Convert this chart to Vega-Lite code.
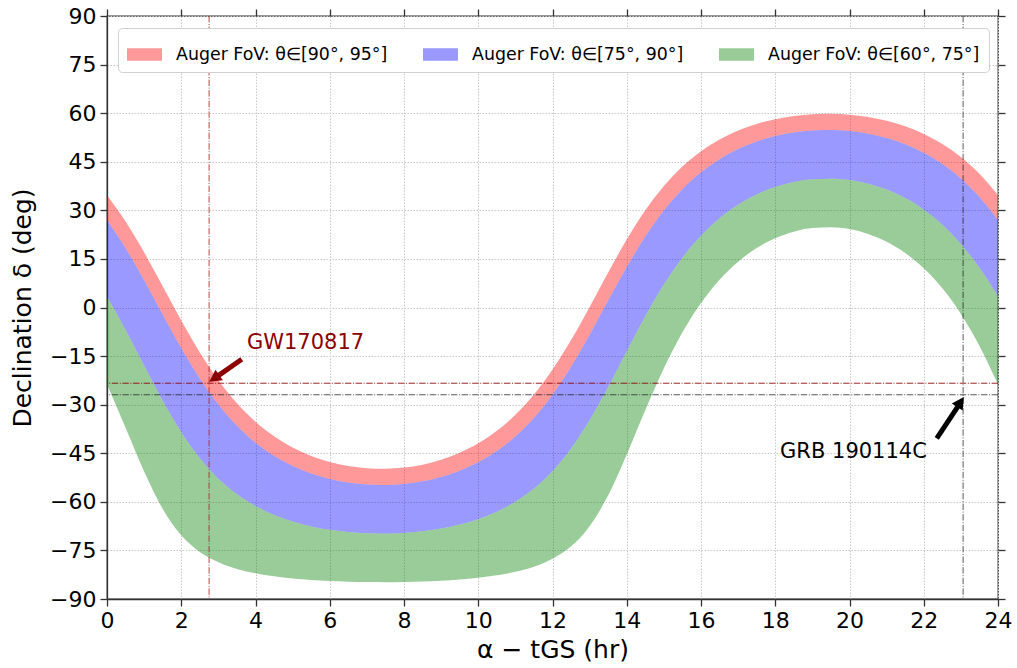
{
  "$schema": "https://vega.github.io/schema/vega-lite/v6.json",
  "width": 891,
  "height": 583,
  "autosize": {"type": "none"},
  "padding": {"left": 107, "top": 16, "right": 19, "bottom": 69},
  "background": "white",
  "config": {
    "font": "DejaVu Sans",
    "view": {"stroke": "#333", "strokeWidth": 1.3},
    "axis": {
      "labelFont": "DejaVu Sans",
      "titleFont": "DejaVu Sans",
      "labelFontSize": 22,
      "titleFontSize": 25,
      "titleFontWeight": "normal",
      "labelColor": "black",
      "titleColor": "black",
      "tickColor": "#333",
      "tickSize": 7,
      "tickWidth": 1.3,
      "domainColor": "#333",
      "domainWidth": 1.3,
      "gridColor": "#c8c8c8",
      "gridDash": [1.5, 1.5],
      "gridWidth": 1,
      "labelPadding": 4,
      "labelFlush": false
    }
  },
  "datasets": {
    "band": [
      {"x": 0, "t95": 34.68, "t90": 26.93, "t75": 3.33, "t60": -23.73},
      {"x": 0.5, "t95": 26.56, "t90": 18.31, "t75": -6.92, "t60": -37.12},
      {"x": 1, "t95": 17.03, "t90": 8.43, "t75": -17.94, "t60": -50.67},
      {"x": 1.5, "t95": 6.56, "t90": -2.13, "t75": -28.79, "t60": -62.22},
      {"x": 2, "t95": -4.01, "t90": -12.5, "t75": -38.5, "t60": -70.35},
      {"x": 2.5, "t95": -13.87, "t90": -21.93, "t75": -46.54, "t60": -75.52},
      {"x": 3, "t95": -22.44, "t90": -29.97, "t75": -52.86, "t60": -78.69},
      {"x": 3.5, "t95": -29.55, "t90": -36.53, "t75": -57.68, "t60": -80.72},
      {"x": 4, "t95": -35.25, "t90": -41.73, "t75": -61.31, "t60": -82.07},
      {"x": 4.5, "t95": -39.75, "t90": -45.8, "t75": -64.04, "t60": -83.01},
      {"x": 5, "t95": -43.22, "t90": -48.92, "t75": -66.08, "t60": -83.68},
      {"x": 5.5, "t95": -45.82, "t90": -51.25, "t75": -67.58, "t60": -84.14},
      {"x": 6, "t95": -47.7, "t90": -52.93, "t75": -68.64, "t60": -84.46},
      {"x": 6.5, "t95": -48.95, "t90": -54.04, "t75": -69.33, "t60": -84.66},
      {"x": 7, "t95": -49.63, "t90": -54.65, "t75": -69.71, "t60": -84.77},
      {"x": 7.5, "t95": -49.79, "t90": -54.79, "t75": -69.79, "t60": -84.8},
      {"x": 8, "t95": -49.43, "t90": -54.47, "t75": -69.6, "t60": -84.74},
      {"x": 8.5, "t95": -48.52, "t90": -53.66, "t75": -69.09, "t60": -84.59},
      {"x": 9, "t95": -47.03, "t90": -52.33, "t75": -68.26, "t60": -84.35},
      {"x": 9.5, "t95": -44.87, "t90": -50.4, "t75": -67.03, "t60": -83.97},
      {"x": 10, "t95": -41.94, "t90": -47.77, "t75": -65.34, "t60": -83.44},
      {"x": 10.5, "t95": -38.09, "t90": -44.3, "t75": -63.05, "t60": -82.68},
      {"x": 11, "t95": -33.14, "t90": -39.81, "t75": -59.99, "t60": -81.6},
      {"x": 11.5, "t95": -26.88, "t90": -34.08, "t75": -55.92, "t60": -80.01},
      {"x": 12, "t95": -19.18, "t90": -26.93, "t75": -50.53, "t60": -77.59},
      {"x": 12.5, "t95": -10.06, "t90": -18.31, "t75": -43.54, "t60": -73.74},
      {"x": 13, "t95": 0.17, "t90": -8.43, "t75": -34.8, "t60": -67.53},
      {"x": 13.5, "t95": 10.82, "t90": 2.13, "t75": -24.53, "t60": -57.96},
      {"x": 14, "t95": 20.99, "t90": 12.5, "t75": -13.5, "t60": -45.35},
      {"x": 14.5, "t95": 29.99, "t90": 21.93, "t75": -2.68, "t60": -31.66},
      {"x": 15, "t95": 37.5, "t90": 29.97, "t75": 7.08, "t60": -18.75},
      {"x": 15.5, "t95": 43.51, "t90": 36.53, "t75": 15.38, "t60": -7.66},
      {"x": 16, "t95": 48.21, "t90": 41.73, "t75": 22.15, "t60": 1.39},
      {"x": 16.5, "t95": 51.85, "t90": 45.8, "t75": 27.56, "t60": 8.59},
      {"x": 17, "t95": 54.62, "t90": 48.92, "t75": 31.76, "t60": 14.16},
      {"x": 17.5, "t95": 56.68, "t90": 51.25, "t75": 34.92, "t60": 18.36},
      {"x": 18, "t95": 58.16, "t90": 52.93, "t75": 37.22, "t60": 21.4},
      {"x": 18.5, "t95": 59.13, "t90": 54.04, "t75": 38.75, "t60": 23.42},
      {"x": 19, "t95": 59.67, "t90": 54.65, "t75": 39.59, "t60": 24.53},
      {"x": 19.5, "t95": 59.79, "t90": 54.79, "t75": 39.79, "t60": 24.78},
      {"x": 20, "t95": 59.51, "t90": 54.47, "t75": 39.34, "t60": 24.2},
      {"x": 20.5, "t95": 58.8, "t90": 53.66, "t75": 38.23, "t60": 22.73},
      {"x": 21, "t95": 57.63, "t90": 52.33, "t75": 36.4, "t60": 20.31},
      {"x": 21.5, "t95": 55.93, "t90": 50.4, "t75": 33.77, "t60": 16.83},
      {"x": 22, "t95": 53.6, "t90": 47.77, "t75": 30.2, "t60": 12.1},
      {"x": 22.5, "t95": 50.51, "t90": 44.3, "t75": 25.55, "t60": 5.92},
      {"x": 23, "t95": 46.48, "t90": 39.81, "t75": 19.63, "t60": -1.98},
      {"x": 23.5, "t95": 41.28, "t90": 34.08, "t75": 12.24, "t60": -11.85},
      {"x": 24, "t95": 34.68, "t90": 26.93, "t75": 3.33, "t60": -23.73}
    ],
    "gwv": [{"x": 2.75}],
    "gwh": [{"y": -23.38}],
    "grbv": [{"x": 23.06}],
    "grbh": [{"y": -26.94}],
    "gwshaft": [{"x": 3.63, "y": -16.0, "x2": 2.98, "y2": -21.2}],
    "gwhead": [{"x": 2.755, "y": -22.96}],
    "grbshaft": [{"x": 22.35, "y": -40.4, "x2": 22.94, "y2": -30.2}],
    "grbhead": [{"x": 23.08, "y": -27.6}],
    "gwlabel": [{"x": 3.77, "y": -11.0, "label": "GW170817"}],
    "grblabel": [{"x": 18.13, "y": -44.7, "label": "GRB 190114C"}]
  },
  "layer": [
    {
      "data": {"name": "band"},
      "mark": {"type": "area", "opacity": 0.4, "interpolate": "monotone"},
      "encoding": {
        "x": {
          "field": "x", "type": "quantitative",
          "scale": {"domain": [0, 24], "nice": false, "zero": false},
          "axis": {"orient": "bottom", "values": [0,2,4,6,8,10,12,14,16,18,20,22,24], "title": "α − tGS (hr)", "titlePadding": 6}
        },
        "y": {
          "field": "t95", "type": "quantitative",
          "scale": {"domain": [-90, 90], "nice": false, "zero": false},
          "axis": {"orient": "left", "values": [-90,-75,-60,-45,-30,-15,0,15,30,45,60,75,90], "title": "Declination δ (deg)", "titlePadding": 14}
        },
        "y2": {"field": "t90"},
        "color": {
          "datum": "Auger FoV: θ∈[90°, 95°]", "type": "nominal",
          "scale": {
            "domain": ["Auger FoV: θ∈[90°, 95°]", "Auger FoV: θ∈[75°, 90°]", "Auger FoV: θ∈[60°, 75°]"],
            "range": ["#ff0000", "#0000ff", "#008000"]
          },
          "legend": {
            "orient": "none", "legendX": 11, "legendY": 12,
            "direction": "horizontal", "title": null,
            "labelFontSize": 17.4, "labelFont": "DejaVu Sans", "labelColor": "black", "labelLimit": 0,
            "symbolType": "M-1,-0.36H1V0.36H-1Z", "symbolSize": 1225,
            "symbolOpacity": 0.4, "symbolStrokeWidth": 0,
            "padding": 9, "strokeColor": "#d0d0d0", "fillColor": "white", "cornerRadius": 4,
            "columnPadding": 35, "labelOffset": 14
          }
        }
      }
    },
    {
      "data": {"name": "band"},
      "mark": {"type": "area", "opacity": 0.4, "interpolate": "monotone"},
      "encoding": {
        "x": {"field": "x", "type": "quantitative", "axis": null},
        "y": {"field": "t90", "type": "quantitative", "axis": null},
        "y2": {"field": "t75"},
        "color": {"datum": "Auger FoV: θ∈[75°, 90°]", "type": "nominal"}
      }
    },
    {
      "data": {"name": "band"},
      "mark": {"type": "area", "opacity": 0.4, "interpolate": "monotone"},
      "encoding": {
        "x": {"field": "x", "type": "quantitative", "axis": null},
        "y": {"field": "t75", "type": "quantitative", "axis": null},
        "y2": {"field": "t60"},
        "color": {"datum": "Auger FoV: θ∈[60°, 75°]", "type": "nominal"}
      }
    },
    {
      "data": {"name": "gwv"},
      "mark": {"type": "rule", "color": "#b22222", "strokeWidth": 1, "opacity": 0.85, "strokeDash": [6.4, 1.6, 1, 1.6]},
      "encoding": {
        "x": {"field": "x", "type": "quantitative",
          "axis": {"orient": "top", "values": [0,2,4,6,8,10,12,14,16,18,20,22,24], "labels": false, "title": null, "grid": false, "domain": false}}
      }
    },
    {
      "data": {"name": "gwh"},
      "mark": {"type": "rule", "color": "#8b0000", "strokeWidth": 1, "opacity": 0.85, "strokeDash": [6.4, 1.6, 1, 1.6]},
      "encoding": {
        "y": {"field": "y", "type": "quantitative",
          "axis": {"orient": "right", "values": [-90,-75,-60,-45,-30,-15,0,15,30,45,60,75,90], "labels": false, "title": null, "grid": false, "domain": false}}
      }
    },
    {
      "data": {"name": "grbv"},
      "mark": {"type": "rule", "color": "#222222", "strokeWidth": 1, "opacity": 0.75, "strokeDash": [6.4, 1.6, 1, 1.6]},
      "encoding": {
        "x": {"field": "x", "type": "quantitative", "axis": null}
      }
    },
    {
      "data": {"name": "grbh"},
      "mark": {"type": "rule", "color": "#222222", "strokeWidth": 1, "opacity": 0.75, "strokeDash": [6.4, 1.6, 1, 1.6]},
      "encoding": {
        "y": {"field": "y", "type": "quantitative", "axis": null}
      }
    },
    {
      "data": {"name": "gwshaft"},
      "mark": {"type": "rule", "color": "#8b0000", "strokeWidth": 5},
      "encoding": {
        "x": {"field": "x", "type": "quantitative", "axis": null},
        "y": {"field": "y", "type": "quantitative", "axis": null},
        "x2": {"field": "x2"},
        "y2": {"field": "y2"}
      }
    },
    {
      "data": {"name": "gwhead"},
      "mark": {"type": "point", "shape": "M0,0L-1,1.85L1,1.85Z", "size": 169, "angle": 235.3, "filled": true, "opacity": 1, "color": "#8b0000"},
      "encoding": {
        "x": {"field": "x", "type": "quantitative", "axis": null},
        "y": {"field": "y", "type": "quantitative", "axis": null}
      }
    },
    {
      "data": {"name": "grbshaft"},
      "mark": {"type": "rule", "color": "black", "strokeWidth": 5},
      "encoding": {
        "x": {"field": "x", "type": "quantitative", "axis": null},
        "y": {"field": "y", "type": "quantitative", "axis": null},
        "x2": {"field": "x2"},
        "y2": {"field": "y2"}
      }
    },
    {
      "data": {"name": "grbhead"},
      "mark": {"type": "point", "shape": "M0,0L-1,1.85L1,1.85Z", "size": 169, "angle": 33.3, "filled": true, "opacity": 1, "color": "black"},
      "encoding": {
        "x": {"field": "x", "type": "quantitative", "axis": null},
        "y": {"field": "y", "type": "quantitative", "axis": null}
      }
    },
    {
      "data": {"name": "gwlabel"},
      "mark": {"type": "text", "align": "left", "baseline": "middle", "fontSize": 21, "font": "DejaVu Sans", "color": "#8b0000"},
      "encoding": {
        "x": {"field": "x", "type": "quantitative", "axis": null},
        "y": {"field": "y", "type": "quantitative", "axis": null},
        "text": {"field": "label"}
      }
    },
    {
      "data": {"name": "grblabel"},
      "mark": {"type": "text", "align": "left", "baseline": "middle", "fontSize": 21, "font": "DejaVu Sans", "color": "black"},
      "encoding": {
        "x": {"field": "x", "type": "quantitative", "axis": null},
        "y": {"field": "y", "type": "quantitative", "axis": null},
        "text": {"field": "label"}
      }
    }
  ],
  "resolve": {"axis": {"x": "independent", "y": "independent"}}
}
